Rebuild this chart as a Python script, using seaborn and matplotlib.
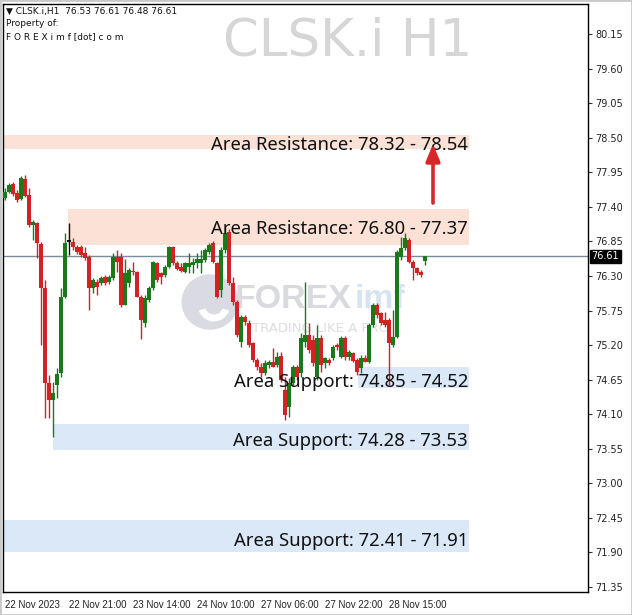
import numpy as np
import pandas as pd
import seaborn as sns
import matplotlib.pyplot as plt
from matplotlib.patches import Circle, Rectangle, Wedge

# H1 candles, CLSK.i (open, high, low, close)
opens = [77.54, 77.64, 77.76, 77.62, 77.52, 77.84, 77.58, 77.11, 77.14, 76.81,
         76.11, 74.60, 74.33, 74.57, 74.76, 75.96, 76.84, 76.84, 76.76, 76.76,
         76.66, 76.60, 76.11, 76.20, 76.19, 76.28, 76.20, 76.27, 76.60, 76.60,
         75.84, 76.19, 76.37, 76.36, 75.97, 75.55, 75.92, 76.11, 76.51, 76.35,
         76.32, 76.44, 76.76, 76.51, 76.44, 76.36, 76.44, 76.47, 76.51, 76.51,
         76.55, 76.68, 76.82, 76.51, 76.08, 76.71, 77.00, 76.19, 75.89, 75.25,
         75.65, 75.55, 75.23, 74.96, 74.85, 74.76, 74.88, 74.93, 74.88, 75.02,
         74.48, 74.21, 74.60, 74.85, 74.76, 75.25, 75.36, 75.28, 74.69, 75.31,
         74.91, 74.96, 74.99, 75.20, 75.01, 75.31, 75.01, 75.07, 74.96, 74.83,
         74.99, 74.93, 75.52, 75.84, 75.71, 75.60, 75.60, 75.20, 75.33, 76.60,
         76.75, 76.87, 76.52, 76.43, 76.36, 76.53]
highs = [77.70, 77.78, 77.79, 77.67, 77.89, 77.91, 77.70, 77.19, 77.16, 76.84,
         76.23, 74.72, 74.61, 74.84, 76.11, 76.98, 77.14, 76.90, 76.79, 76.79,
         76.76, 76.63, 76.27, 76.25, 76.30, 76.31, 76.31, 76.67, 76.71, 76.66,
         76.57, 76.43, 76.52, 76.38, 75.99, 76.00, 76.14, 76.54, 76.52, 76.36,
         76.47, 76.78, 76.77, 76.53, 76.51, 76.52, 76.66, 76.58, 76.66, 76.71,
         76.75, 76.82, 76.86, 76.52, 76.76, 77.06, 77.05, 76.28, 75.92, 75.68,
         75.68, 75.60, 75.25, 74.99, 74.91, 74.96, 74.96, 75.15, 75.09, 75.09,
         74.69, 74.67, 74.88, 74.88, 75.39, 76.20, 75.55, 75.36, 75.52, 75.36,
         75.01, 74.99, 75.20, 75.23, 75.34, 75.34, 75.12, 75.09, 74.99, 75.04,
         75.04, 75.55, 75.87, 75.87, 75.73, 75.73, 75.63, 75.76, 76.72, 76.92,
         76.98, 76.90, 76.55, 76.44, 76.39, 76.61]
lows = [77.51, 77.62, 77.57, 77.47, 77.51, 77.56, 77.08, 76.87, 76.59, 75.20,
        74.04, 74.04, 73.74, 74.36, 74.69, 75.95, 76.63, 76.71, 76.65, 76.60,
        76.55, 75.76, 76.03, 76.00, 76.16, 76.16, 76.17, 76.24, 76.36, 75.80,
        75.84, 76.12, 76.31, 75.96, 75.30, 75.49, 75.89, 76.08, 76.20, 76.17,
        76.28, 76.43, 76.48, 76.40, 76.36, 76.35, 76.35, 76.35, 76.43, 76.35,
        76.52, 76.65, 76.51, 75.95, 75.97, 76.66, 76.15, 75.84, 75.33, 75.17,
        75.52, 75.17, 74.93, 74.80, 74.69, 74.72, 74.83, 74.85, 74.85, 74.61,
        74.01, 74.06, 74.56, 74.64, 74.69, 75.17, 75.07, 74.86, 74.64, 74.77,
        74.83, 74.88, 74.96, 75.12, 74.99, 74.96, 74.96, 74.93, 74.72, 74.76,
        74.93, 74.91, 75.49, 75.63, 75.52, 75.49, 74.57, 75.17, 75.31, 76.56,
        76.71, 76.51, 76.24, 76.31, 76.28, 76.48]
closes = [77.64, 77.75, 77.60, 77.51, 77.86, 77.57, 77.11, 77.16, 76.82, 76.11,
          74.60, 74.33, 74.44, 74.74, 75.96, 76.82, 76.84, 76.76, 76.68, 76.63,
          76.59, 76.11, 76.24, 76.12, 76.27, 76.19, 76.28, 76.60, 76.52, 75.84,
          76.35, 76.40, 76.36, 75.97, 75.60, 75.95, 76.11, 76.52, 76.24, 76.28,
          76.44, 76.76, 76.51, 76.41, 76.38, 76.51, 76.51, 76.52, 76.57, 76.57,
          76.71, 76.79, 76.52, 75.97, 76.71, 76.98, 76.19, 75.89, 75.36, 75.65,
          75.57, 75.20, 74.96, 74.85, 74.76, 74.91, 74.93, 74.85, 75.01, 74.64,
          74.09, 74.60, 74.85, 74.69, 75.31, 75.36, 75.12, 74.91, 75.31, 74.88,
          74.99, 74.91, 75.17, 75.17, 75.31, 75.01, 75.09, 74.94, 74.77, 74.99,
          74.93, 75.52, 75.84, 75.68, 75.55, 75.52, 75.23, 75.33, 76.68, 76.75,
          76.90, 76.52, 76.43, 76.35, 76.32, 76.61]

date_labels = ["22 Nov 2023", "22 Nov 21:00", "23 Nov 14:00", "24 Nov 10:00",
               "27 Nov 06:00", "27 Nov 22:00", "28 Nov 15:00"]
price_ticks = [80.15, 79.60, 79.05, 78.50, 77.95, 77.40, 76.85, 76.30, 75.75,
               75.20, 74.65, 74.10, 73.55, 73.00, 72.45, 71.90, 71.35]
last_price = 76.61

# support / resistance areas
zone_names = ["Area Resistance: 78.32 - 78.54", "Area Resistance: 76.80 - 77.37",
              "Area Support: 74.85 - 74.52", "Area Support: 74.28 - 73.53",
              "Area Support: 72.41 - 71.91"]
zone_low = [78.32, 76.80, 74.52, 73.53, 71.91]
zone_high = [78.54, 77.37, 74.85, 73.94, 72.41]
zone_start = [-0.5, 15.75, 88.25, 12.0, -0.5]
zone_kind = ["res", "res", "sup", "sup", "sup"]

df = pd.DataFrame({"open": opens, "high": highs, "low": lows, "close": closes})
df["idx"] = np.arange(len(df))

sns.set_theme(style="white")
plt.rcParams["font.family"] = ["DejaVu Sans"]

UP = "#1a7a1a"
DOWN = "#d42222"

fig = plt.figure(figsize=(6.32, 6.15), dpi=100)
ax = fig.add_axes([3 / 632, 23 / 615, 585 / 632, 588 / 615])

# zones
zone_colors = {"res": "#fbe1d6", "sup": "#dae8f7"}
for lo, hi, x0, kind in zip(zone_low, zone_high, zone_start, zone_kind):
    ax.fill_between([x0, 115.9], lo, hi, color=zone_colors[kind], lw=0, zorder=1)

# watermark logo (behind candles)
fx = lambda px: px / 632
fy = lambda py: 1 - py / 615
logo = Circle((fx(210), fy(302)), 0.044, transform=fig.transFigure,
              color="#dadbe2", zorder=1.5)
ax.add_patch(logo)
logo.set_transform(fig.transFigure)
cut = Wedge((fx(214), fy(306)), 0.024, 200, 340, width=0.009,
            transform=fig.transFigure, color="white", zorder=1.6)
ax.add_patch(cut)
cut.set_transform(fig.transFigure)
ax.text(fx(235), fy(300), "FOREX", transform=fig.transFigure, ha="left", va="center",
        fontsize=24.5, fontweight="bold", family="Liberation Sans", color="#d9dae0",
        zorder=1.7)
ax.text(fx(355), fy(300), "imf", transform=fig.transFigure, ha="left", va="center",
        fontsize=24.5, fontweight="bold", family="Liberation Sans", color="#d6e4f1",
        zorder=1.7)
ax.text(fx(252), fy(328), "TRADING LIKE A PRO", transform=fig.transFigure, ha="left",
        va="center", fontsize=9.5, color="#dedee2", zorder=1.7)

# current price line
ax.axhline(last_price, color="#7b8b9c", lw=1, zorder=2)

# candles
cols = np.where(df["close"] > df["open"], UP, np.where(df["close"] < df["open"], DOWN, "#111111"))
body_lo = df[["open", "close"]].min(axis=1)
body_h = (df["close"] - df["open"]).abs().clip(lower=0.025)
ax.vlines(df["idx"], df["low"], df["high"], colors=cols, lw=1.0, zorder=3)
ax.bar(df["idx"], body_h, bottom=body_lo, width=0.8, color=cols, lw=0, zorder=4)

# zone labels
text_base = [78.31, 76.96, 74.54, 73.60, 72.01]
for name, yb in zip(zone_names, text_base):
    ax.text(115.75, yb, name, ha="right", va="baseline", fontsize=13.3,
            family="Noto Sans", color="#111111", zorder=6)

# arrow
ax.annotate("", xy=(107, 78.40), xytext=(107, 77.46),
            arrowprops=dict(arrowstyle="-|>,head_width=0.35,head_length=0.85",
                            color="#d8262b", lw=2.6, shrinkA=0, shrinkB=0), zorder=6)

# axes styling
ax.set_xlim(-0.5, 145.75)
ax.set_ylim(71.271, 80.627)
ax.yaxis.tick_right()
ax.set_yticks(price_ticks)
ax.set_yticklabels([f"{p:.2f}" for p in price_ticks], fontsize=7, color="#222222")
ax.set_xticks(np.arange(len(date_labels)) * 16)
ax.set_xticklabels(date_labels, fontsize=7, color="#222222", ha="left",
                   family="Liberation Sans")
ax.tick_params(axis="y", direction="out", length=3, width=0.8, color="#333333", pad=2)
ax.tick_params(axis="x", direction="out", length=4, width=0.8, color="#333333", pad=2)
for s in ax.spines.values():
    s.set_color("black")
    s.set_linewidth(1)

# last price tag
ax.text(1.006, last_price, f"{last_price:.2f}", transform=ax.get_yaxis_transform(),
        ha="left", va="center", fontsize=7, color="white", zorder=7,
        bbox=dict(facecolor="black", edgecolor="black", pad=1.3))

# chart title watermark
fig.text(fx(348), fy(42), "CLSK.i H1", ha="center", va="center",
         fontsize=37, color="#d6d6d6")

# header
fig.text(fx(6), fy(11), "▼ CLSK.i,H1  76.53 76.61 76.48 76.61",
         fontsize=6.5, va="center", color="#111111")
fig.text(fx(6), fy(24), "Property of:", fontsize=6.5, va="center", color="#111111")
fig.text(fx(6), fy(37), "F O R E X i m f [dot] c o m", fontsize=6.5,
         va="center", color="#111111")

fig.patches.append(Rectangle((0, 0), 1, 1, transform=fig.transFigure, fill=False,
                             edgecolor="#c9c9c9", lw=2))

fig.savefig("out.png", dpi=100)
